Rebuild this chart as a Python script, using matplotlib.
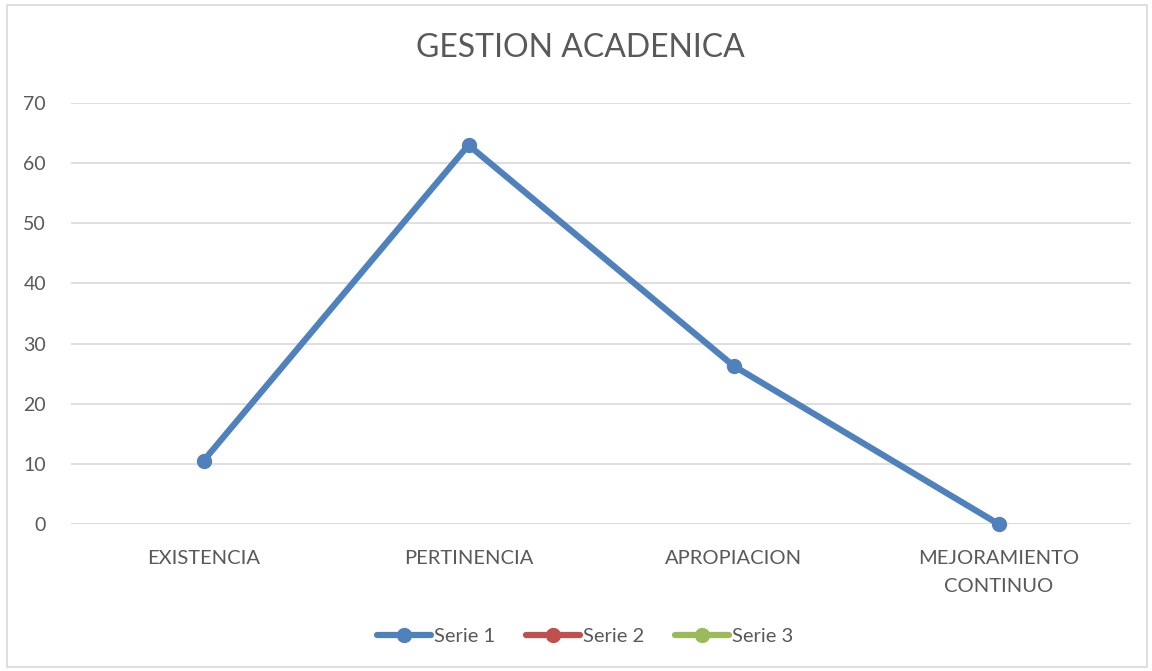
import matplotlib.pyplot as plt
from matplotlib.patches import Rectangle

categories = ["EXISTENCIA", "PERTINENCIA", "APROPIACION", "MEJORAMIENTO\nCONTINUO"]
serie1 = [10.5, 63.0, 26.3, 0.0]
serie2 = [None, None, None, None]
serie3 = [None, None, None, None]
yticks = [0, 10, 20, 30, 40, 50, 60, 70]

plt.rcParams["font.family"] = ["Lato", "DejaVu Sans"]
txt = "#595959"

fig = plt.figure(figsize=(11.52, 6.71), dpi=100)
fig.patches.append(Rectangle((7 / 1152, 4 / 671), 1140 / 1152, 662 / 671,
                             transform=fig.transFigure, fill=False,
                             edgecolor="#D9D9D9", linewidth=1.2))
ax = fig.add_axes([71 / 1152, 147 / 671, 1060 / 1152, 421 / 671])

x = list(range(len(categories)))
s2 = [float("nan") if v is None else v for v in serie2]
s3 = [float("nan") if v is None else v for v in serie3]
ax.plot(x, serie1, color="#4F81BD", lw=4.5, marker="o", ms=10, label="Serie 1",
        solid_capstyle="round", clip_on=False, zorder=3)
ax.plot(x, s2, color="#C0504D", lw=4.5, marker="o", ms=10, label="Serie 2",
        solid_capstyle="round")
ax.plot(x, s3, color="#9BBB59", lw=4.5, marker="o", ms=10, label="Serie 3",
        solid_capstyle="round")

ax.set_xlim(-0.5, len(categories) - 0.5)
ax.set_ylim(0, 70)
ax.set_yticks(yticks)
ax.set_xticks(x)
ax.set_xticklabels(categories, fontsize=14.5, color=txt, linespacing=1.75)
ax.tick_params(axis="y", labelsize=14, labelcolor=txt, length=0, pad=18)
ax.tick_params(axis="x", length=0, pad=19)
ax.grid(axis="y", color="#D9D9D9", lw=1.2)
ax.set_axisbelow(True)
for s in ax.spines.values():
    s.set_visible(False)
ax.axhline(0, color="#D9D9D9", lw=1.2, zorder=0)

fig.text(0.504, 0.928, "GESTION ACADENICA", ha="center", va="center",
         fontsize=23, color=txt)

leg = fig.legend(loc="center", bbox_to_anchor=(0.508, 0.052), ncol=3, frameon=False,
                 fontsize=14.5, handlelength=2.7, handletextpad=0.15, columnspacing=1.5)
for t in leg.get_texts():
    t.set_color(txt)

fig.savefig("out.png", dpi=100)
